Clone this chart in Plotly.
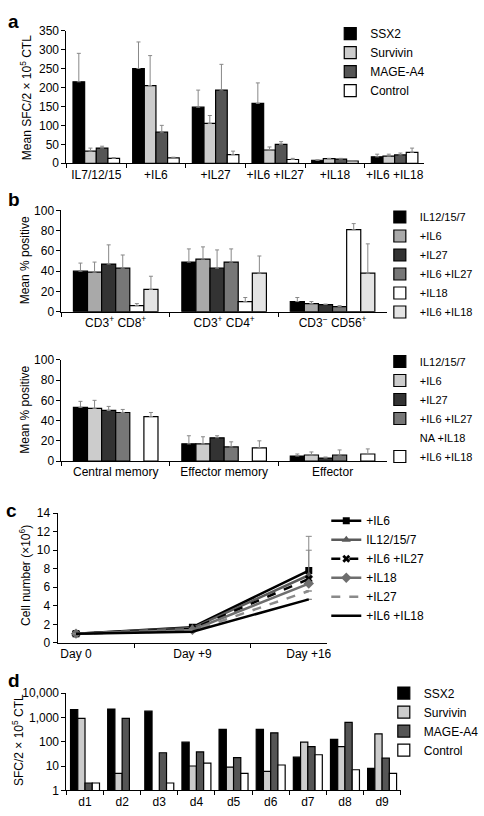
import plotly.graph_objects as go

W, H = 484, 816
FONT = "Liberation Sans, Arial, Helvetica, sans-serif"

# ---------- Panel a ----------
a_cats = ["IL7/12/15", "+IL6", "+IL27", "+IL6 +IL27", "+IL18", "+IL6 +IL18"]
a_ssx2 = [215, 250, 148, 158, 8, 17]
a_ssx2_err = [75, 70, 45, 54, 1, 7]
a_surv = [32, 205, 105, 35, 12, 19]
a_surv_err = [8, 79, 21, 8, 1, 5]
a_mage = [40, 82, 193, 50, 11, 22]
a_mage_err = [5, 18, 68, 7, 2, 5]
a_ctrl = [13, 14, 23, 10, 6, 29]
a_ctrl_err = [2, 2, 9, 3, 1, 11]

# ---------- Panel b (top) ----------
b1_cats = ["CD3<sup>+</sup> CD8<sup>+</sup>", "CD3<sup>+</sup> CD4<sup>+</sup>", "CD3<sup>\u2212</sup> CD56<sup>+</sup>"]
b1_names = ["IL12/15/7", "+IL6", "+IL27", "+IL6 +IL27", "+IL18", "+IL6 +IL18"]
b1_vals = [
    [40, 49, 10],
    [39, 52, 8],
    [47, 43, 7],
    [43, 49, 5],
    [6, 10, 81],
    [22, 38, 38],
]
b1_errs = [
    [8, 13, 4],
    [10, 12, 2],
    [19, 18, 0.5],
    [13, 13, 1],
    [2, 4, 6],
    [13, 17, 29],
]
b1_colors = ["#000000", "#a9a9a9", "#333333", "#777777", "#ffffff", "#e4e4e4"]

# ---------- Panel b (bottom) ----------
b2_cats = ["Central memory", "Effector memory", "Effector"]
b2_names = ["IL12/15/7", "+IL6", "+IL27", "+IL6 +IL27", "NA +IL18", "+IL6 +IL18"]
b2_vals = [
    [53, 17, 5],
    [52, 17, 6],
    [50, 23, 3],
    [48, 14, 6],
    [None, None, None],
    [44, 13, 7],
]
b2_errs = [
    [6, 8, 2],
    [8, 7, 3],
    [4, 2, 1],
    [3, 5, 5],
    [0, 0, 0],
    [4, 7, 5],
]
b2_colors = ["#000000", "#cccccc", "#333333", "#777777", "rgba(0,0,0,0)", "#ffffff"]

# ---------- Panel c ----------
c_days = ["Day 0", "Day +9", "Day +16"]
c_names = ["+IL6", "IL12/15/7", "+IL6 +IL27", "+IL18", "+IL27", "+IL6 +IL18"]
c_vals = [
    [1.0, 1.7, 7.8],
    [1.0, 1.6, 7.3],
    [1.0, 1.5, 6.9],
    [1.0, 1.4, 6.4],
    [1.0, 1.3, 5.6],
    [1.0, 1.2, 4.7],
]
c_errs = [
    [0, 0, 2.2],
    [0, 0, 4.2],
    [0, 0, 0],
    [0, 0, 0],
    [0, 0, 0],
    [0, 0, 0],
]

# ---------- Panel d ----------
d_cats = ["d1", "d2", "d3", "d4", "d5", "d6", "d7", "d8", "d9"]
d_ssx2 = [2100, 2200, 1800, 95, 320, 320, 23, 125, 8]
d_surv = [900, 5, None, 10, 9, 6, 95, 62, 210]
d_mage = [2, 900, 35, 38, 22, 230, 63, 620, 21]
d_ctrl = [2, None, 2, 13, 5, 11, 29, 7, 5]

ag_names = ["SSX2", "Survivin", "MAGE-A4", "Control"]
ag_colors = ["#000000", "#cccccc", "#555555", "#ffffff"]

# axis titles
y_titles = [
    "Mean SFC/2 \u00d7 10<sup>5</sup> CTL",
    "Mean % positive",
    "Mean % positive",
    "Cell number (\u00d710<sup>6</sup>)",
    "SFC/2 \u00d7 10<sup>5</sup> CTL",
]

fig = go.Figure()
LINE = dict(color="black", width=1.2)
ERR = dict(color="#888888", thickness=1, width=2)


def err(arr):
    return dict(type="data", array=arr, arrayminus=[0] * len(arr), symmetric=False, **ERR)


# Panel a
for name, col, vals, e in zip(ag_names, ag_colors,
                              [a_ssx2, a_surv, a_mage, a_ctrl],
                              [a_ssx2_err, a_surv_err, a_mage_err, a_ctrl_err]):
    fig.add_trace(go.Bar(x=a_cats, y=vals, name=name, marker=dict(color=col, line=LINE),
                         error_y=err(e), xaxis="x", yaxis="y", legend="legend"))

# Panel b top
for name, col, vals, e in zip(b1_names, b1_colors, b1_vals, b1_errs):
    fig.add_trace(go.Bar(x=b1_cats, y=vals, name=name, marker=dict(color=col, line=LINE),
                         error_y=err(e), xaxis="x2", yaxis="y2", legend="legend2"))

# Panel b bottom
for name, col, vals, e in zip(b2_names, b2_colors, b2_vals, b2_errs):
    line = LINE if name != "NA +IL18" else dict(width=0, color="rgba(0,0,0,0)")
    fig.add_trace(go.Bar(x=b2_cats, y=vals, name=name, marker=dict(color=col, line=line),
                         error_y=err(e), xaxis="x3", yaxis="y3", legend="legend3"))

# Panel c
c_styles = [
    dict(line=dict(color="black", width=2.5), marker=dict(symbol="square", size=7, color="black"), mode="lines+markers"),
    dict(line=dict(color="#5a5a5a", width=2.5), marker=dict(symbol="triangle-up", size=8, color="#5a5a5a"), mode="lines+markers"),
    dict(line=dict(color="black", width=2.5, dash="dash"), marker=dict(symbol="x", size=7, color="black"), mode="lines+markers"),
    dict(line=dict(color="#6e6e6e", width=2.5), marker=dict(symbol="diamond", size=8, color="#6e6e6e"), mode="lines+markers"),
    dict(line=dict(color="#8a8a8a", width=2.5, dash="dash"), mode="lines"),
    dict(line=dict(color="black", width=2.5), mode="lines"),
]
for name, vals, e, st in zip(c_names, c_vals, c_errs, c_styles):
    fig.add_trace(go.Scatter(x=c_days, y=vals, name=name, error_y=dict(
        type="data", array=e, arrayminus=[0] * len(e), symmetric=False, color="#888888", thickness=1, width=3),
        xaxis="x4", yaxis="y4", legend="legend4", **st))

# Panel d
for name, col, vals in zip(ag_names, ag_colors, [d_ssx2, d_surv, d_mage, d_ctrl]):
    fig.add_trace(go.Bar(x=d_cats, y=vals, name=name, marker=dict(color=col, line=LINE),
                         xaxis="x5", yaxis="y5", legend="legend5"))


def px_x(p):
    return p / W


def px_y(p):
    return 1 - p / H


TICKF = dict(family=FONT, size=12, color="black")


def xax(dom, anchor, font=TICKF):
    return dict(domain=[px_x(dom[0]), px_x(dom[1])], anchor=anchor, type="category",
                showline=True, linecolor="black", linewidth=1, ticks="outside", ticklen=4,
                tickcolor="black", tickson="boundaries", showgrid=False, zeroline=False,
                tickfont=font, tickangle=0, fixedrange=True)


def yax(dom, anchor, rng, dtick, font=TICKF, **kw):
    d = dict(domain=[px_y(dom[1]), px_y(dom[0])], anchor=anchor, range=rng, dtick=dtick,
             showline=True, linecolor="black", linewidth=1, ticks="outside", ticklen=4,
             tickcolor="black", showgrid=False, zeroline=False, tickfont=font, fixedrange=True)
    d.update(kw)
    return d


LEGF = dict(family=FONT, size=12, color="black")
LEGF_S = dict(family=FONT, size=11, color="black")


def leg(xpx, ypx, font):
    return dict(x=px_x(xpx), y=px_y(ypx), xanchor="left", yanchor="middle", font=font,
                bgcolor="rgba(0,0,0,0)", traceorder="normal")


fig.update_layout(
    width=W, height=H, margin=dict(l=0, r=0, t=0, b=0),
    paper_bgcolor="white", plot_bgcolor="white",
    font=dict(family=FONT, size=12, color="black"),
    barmode="group", bargap=0.22, bargroupgap=0,
    xaxis=xax((67, 428), "y"),
    yaxis=yax((24, 159), "x", [0, 350], 50),
    xaxis2=xax((62, 390), "y2"),
    yaxis2=yax((207, 310), "x2", [0, 100], 20),
    xaxis3=xax((62, 390), "y3"),
    yaxis3=yax((359, 462), "x3", [0, 100], 20),
    xaxis4=xax((58, 330), "y4"),
    yaxis4=yax((515, 647), "x4", [0, 14], 2),
    xaxis5=xax((67, 404), "y5"),
    yaxis5=yax((698, 797), "x5", [0, 4], 1, type="log", tickformat=",d"),
    legend=leg(333, 56, LEGF),
    legend2=leg(383, 262, LEGF_S),
    legend3=leg(383, 409, LEGF_S),
    legend4=leg(329, 571, LEGF),
    legend5=leg(387, 727, LEGF),
    showlegend=True,
)

# rotated y-axis titles
for title, x, y in zip(y_titles, [27, 25, 25, 25, 18], [92, 258, 410, 578, 746]):
    fig.add_annotation(text=title, x=px_x(x), y=px_y(y), xref="paper", yref="paper",
                       xanchor="center", yanchor="middle", textangle=-90, showarrow=False,
                       font=dict(family=FONT, size=12, color="black"))

for letter, x, y in [("a", 14, 15), ("b", 14, 196), ("c", 12, 512), ("d", 14, 685)]:
    fig.add_annotation(text=f"<b>{letter}</b>", x=px_x(x), y=px_y(y), xref="paper", yref="paper",
                       xanchor="center", yanchor="middle", showarrow=False,
                       font=dict(family=FONT, size=19, color="black"))

fig.write_html("out.html", config={"displayModeBar": False},
               post_script="document.body.style.margin='0';document.body.style.overflow='hidden';")
